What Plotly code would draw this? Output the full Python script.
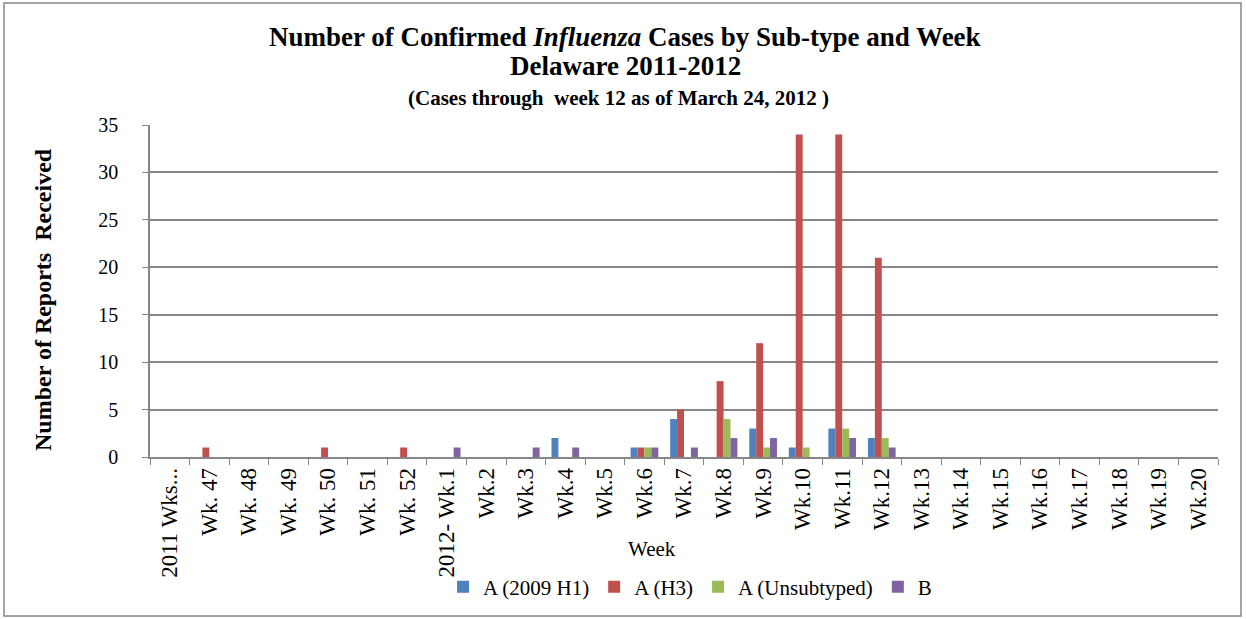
import plotly.graph_objects as go

weeks = ["2011 Wks...", "Wk. 47", "Wk. 48", "Wk. 49", "Wk. 50", "Wk. 51", "Wk. 52",
         "2012- Wk.1", "Wk.2", "Wk.3", "Wk.4", "Wk.5", "Wk.6", "Wk.7", "Wk.8", "Wk.9",
         "Wk.10", "Wk.11", "Wk.12", "Wk.13", "Wk.14", "Wk.15", "Wk.16", "Wk.17",
         "Wk.18", "Wk.19", "Wk.20"]
a_h1 =   [0, 0, 0, 0, 0, 0, 0, 0, 0, 0, 2, 0, 1, 4, 0, 3, 1, 3, 2, 0, 0, 0, 0, 0, 0, 0, 0]
a_h3 =   [0, 1, 0, 0, 1, 0, 1, 0, 0, 0, 0, 0, 1, 5, 8, 12, 34, 34, 21, 0, 0, 0, 0, 0, 0, 0, 0]
a_unsub = [0, 0, 0, 0, 0, 0, 0, 0, 0, 0, 0, 0, 1, 0, 4, 1, 1, 3, 2, 0, 0, 0, 0, 0, 0, 0, 0]
b_vals = [0, 0, 0, 0, 0, 0, 0, 1, 0, 1, 1, 0, 1, 1, 2, 2, 0, 2, 1, 0, 0, 0, 0, 0, 0, 0, 0]

series = [("A (2009 H1)", a_h1, "#4F81BD"),
          ("A (H3)", a_h3, "#C0504D"),
          ("A (Unsubtyped)", a_unsub, "#9BBB59"),
          ("B", b_vals, "#8064A2")]

FONT = "Liberation Serif, Times New Roman, serif"
fig = go.Figure()
for name, vals, col in series:
    fig.add_trace(go.Bar(x=weeks, y=vals, name=name, marker_color=col,
                         marker_line_width=0))

W, H = 1246, 619
L, R, T, B = 150, 28, 125, 162
pw, ph = W - L - R, H - T - B
def px(x): return (x - L) / pw
def py(y): return (H - B - y) / ph

fig.update_layout(
    width=W, height=H,
    margin=dict(l=L, r=R, t=T, b=B),
    paper_bgcolor="white", plot_bgcolor="white",
    barmode="group", bargap=0.3, bargroupgap=0,
    font=dict(family=FONT, size=20, color="black"),
    showlegend=True,
    legend=dict(orientation="h", x=px(690), xanchor="center", y=py(587), yanchor="middle",
                font=dict(family=FONT, size=21), itemwidth=30, traceorder="normal",
                bgcolor="rgba(0,0,0,0)"),
    xaxis=dict(type="category", tickangle=-90, ticks="outside", tickson="boundaries",
               ticklen=6, tickcolor="#868686", showline=True, linecolor="#868686",
               linewidth=1.5, showgrid=False,
               tickfont=dict(family=FONT, size=23, color="black"),
               automargin=False),
    yaxis=dict(range=[0, 35], dtick=5, showgrid=True, gridcolor="#868686", gridwidth=1.5,
               showline=True, linecolor="#868686", linewidth=1.5, ticks="outside",
               ticklen=6, tickcolor="#868686",
               tickfont=dict(family=FONT, size=20, color="black"),
               ticklabelstandoff=20, zeroline=False, automargin=False),
    annotations=[
        dict(text="<b>Number of Confirmed <i>Influenza</i> Cases by Sub-type and Week</b>",
             xref="paper", yref="paper", x=px(625), y=py(37), showarrow=False,
             font=dict(family=FONT, size=27), xanchor="center", yanchor="middle"),
        dict(text="<b>Delaware 2011-2012</b>", xref="paper", yref="paper",
             x=px(625), y=py(66), showarrow=False, font=dict(family=FONT, size=27),
             xanchor="center", yanchor="middle"),
        dict(text="<b>(Cases through  week 12 as of March 24, 2012 )</b>", xref="paper",
             yref="paper", x=px(618), y=py(98), showarrow=False,
             font=dict(family=FONT, size=21), xanchor="center", yanchor="middle"),
        dict(text="<b>Number of Reports  Received</b>", xref="paper", yref="paper",
             x=px(43), y=py(300), showarrow=False, textangle=-90,
             font=dict(family=FONT, size=24), xanchor="center", yanchor="middle"),
        dict(text="Week", xref="paper", yref="paper", x=px(652), y=py(549),
             showarrow=False, font=dict(family=FONT, size=21),
             xanchor="center", yanchor="middle"),
    ],
    shapes=[dict(type="rect", xref="paper", yref="paper",
                 x0=px(4), x1=px(1241), y0=py(616), y1=py(3),
                 line=dict(color="#868686", width=1.5), fillcolor="rgba(0,0,0,0)",
                 layer="below")],
)

fig.write_html("out.html", config={"displayModeBar": False},
               post_script="document.body.style.margin='0';")
